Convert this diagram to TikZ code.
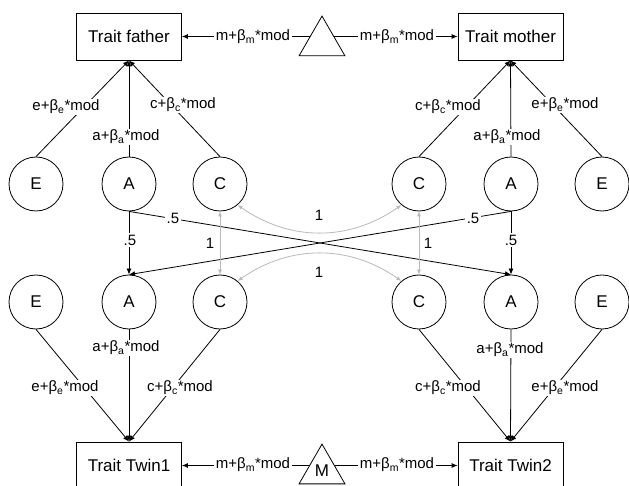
\documentclass[tikz,border=0pt]{standalone}
\usepackage{fontspec}
\setmainfont{Liberation Sans}
\usetikzlibrary{shapes.geometric,arrows.meta,calc}
\newcommand{\parlab}[1]{#1+β\textsubscript{#1}*mod}
\begin{document}
\begin{tikzpicture}[x=1pt,y=-1pt,
  trait/.style={draw,line width=0.8pt,minimum width=105pt,minimum height=47pt,inner sep=0pt,font=\fontsize{17}{20}\selectfont},
  latent/.style={draw,circle,line width=0.8pt,minimum size=54pt,inner sep=0pt,font=\fontsize{17}{20}\selectfont},
  tri/.style={draw,regular polygon,regular polygon sides=3,minimum size=53pt,inner sep=0pt,line width=0.8pt,font=\fontsize{17}{20}\selectfont},
  lab/.style={fill=white,inner sep=1.5pt,font=\fontsize{15}{18}\selectfont},
  lbl/.style={inner sep=1pt,font=\fontsize{15}{18}\selectfont},
  link/.style={line width=0.8pt,-{Latex[length=6pt,width=5pt]}},
  glink/.style={line width=0.8pt,gray!55,{Latex[length=5pt,width=4pt]}-{Latex[length=5pt,width=4pt]}},
]
\clip (0,0) rectangle (629,486);
% observed traits
\node[trait] (Tf) at (129,36.5) {Trait father};
\node[trait] (Tm) at (510.5,36.5) {Trait mother};
\node[trait] (T1) at (129,465.5) {Trait Twin1};
\node[trait] (T2) at (510.5,465.5) {Trait Twin2};
% means triangles
\node[tri] (MT) at (322,42.6) {};
\node[tri] (MB) at (322,470.6) {M};
% latent factors
\node[latent] (Ef) at (36,184) {E};
\node[latent] (Af) at (129,184) {A};
\node[latent] (Cf) at (220,184) {C};
\node[latent] (Cm) at (419,184) {C};
\node[latent] (Am) at (511,184) {A};
\node[latent] (Em) at (602,184) {E};
\node[latent] (Et1) at (36,302) {E};
\node[latent] (At1) at (129,302) {A};
\node[latent] (Ct1) at (220,302) {C};
\node[latent] (Ct2) at (419,302) {C};
\node[latent] (At2) at (511,302) {A};
\node[latent] (Et2) at (602,302) {E};
% coordinates on triangle sides
\coordinate (MTl) at ($(MT.west |- Tf.east)+(3.3,0)$);
\coordinate (MTr) at ($(MT.east |- Tm.west)+(-3.3,0)$);
\coordinate (MBl) at ($(MB.west |- T1.east)+(3,0)$);
\coordinate (MBr) at ($(MB.east |- T2.west)+(-3,0)$);
% mean paths
\draw[link] (MTl) -- (Tf.east);
\draw[link] (MTr) -- (Tm.west);
\draw[link] (MBl) -- (T1.east);
\draw[link] (MBr) -- (T2.west);
% parents
\draw[link] (Ef.north) -- (Tf.south);
\draw[link] (Af.north) -- (Tf.south);
\draw[link] (Cf.north) -- (Tf.south);
\draw[link] (Em.north) -- (Tm.south);
\draw[link] (Am.north) -- (Tm.south);
\draw[link] (Cm.north) -- (Tm.south);
% twins
\draw[link] (Et1.south) -- (T1.north);
\draw[link] (At1.south) -- (T1.north);
\draw[link] (Ct1.south) -- (T1.north);
\draw[link] (Et2.south) -- (T2.north);
\draw[link] (At2.south) -- (T2.north);
\draw[link] (Ct2.south) -- (T2.north);
% transmission
\draw[link] (Af.south) -- (At1.north);
\draw[link] (Af.south) -- (At2.north);
\draw[link] (Am.south) -- (At1.north);
\draw[link] (Am.south) -- (At2.north);
% common environment
\draw[glink] (Cf.south) -- (Ct1.north);
\draw[glink] (Cm.south) -- (Ct2.north);
\draw[glink] (Cf.-50) to[out=-35,in=-145] (Cm.-130);
\draw[glink] (Ct1.50) to[out=35,in=145] (Ct2.130);
% labels
\node[lab] at (253,37) {m+β\textsubscript{m}*mod};
\node[lab] at (397,37) {m+β\textsubscript{m}*mod};
\node[lab] at (253,465) {m+β\textsubscript{m}*mod};
\node[lab] at (397,465) {m+β\textsubscript{m}*mod};
\node[lab] at (66,107) {\parlab{e}};
\node[lab] at (126,137) {\parlab{a}};
\node[lab] at (183,105) {\parlab{c}};
\node[lab] at (448,107) {\parlab{c}};
\node[lab] at (507,137) {\parlab{a}};
\node[lab] at (565,105) {\parlab{e}};
\node[lab] at (126,348) {\parlab{a}};
\node[lab] at (65,388) {\parlab{e}};
\node[lab] at (180,388) {\parlab{c}};
\node[lab] at (448,388) {\parlab{c}};
\node[lab] at (510,350) {\parlab{a}};
\node[lab] at (565,388) {\parlab{e}};
\node[lab] at (130,240) {.5};
\node[lab] at (511,240) {.5};
\node[lab] at (173,218) {.5};
\node[lab] at (473,218) {.5};
\node[lbl] at (210,243) {1};
\node[lbl] at (428,243) {1};
\node[lbl] at (319,215) {1};
\node[lbl] at (319,272) {1};
\end{tikzpicture}
\end{document}
